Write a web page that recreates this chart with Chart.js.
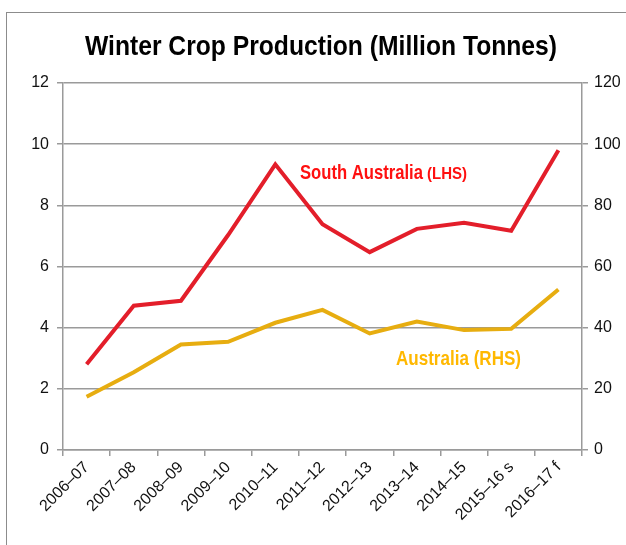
<!DOCTYPE html>
<html>
<head>
<meta charset="utf-8">
<script src="https://cdn.jsdelivr.net/npm/chart.js@4"></script>
<style>
  html, body { margin: 0; padding: 0; background: #fff; }
  #wrap { position: relative; width: 626px; height: 545px; overflow: hidden; }
  #frame { position: absolute; left: 6px; top: 12px; width: 700px; height: 600px; border: 1.5px solid #8c8c8c; box-sizing: border-box; }
  canvas { position: absolute; left: 0; top: 0; }
</style>
</head>
<body>
<div id="wrap">
  <div id="frame"></div>
  <canvas id="c" width="626" height="545"></canvas>
</div>
<script>
const categories = ['2006–07','2007–08','2008–09','2009–10','2010–11','2011–12','2012–13','2013–14','2014–15','2015–16 s','2016–17 f'];
const southAustralia = [2.8, 4.72, 4.88, 7.03, 9.34, 7.38, 6.47, 7.23, 7.43, 7.17, 9.8];
const australia = [17.4, 25.4, 34.5, 35.4, 41.6, 45.8, 38.1, 42.0, 39.2, 39.6, 52.5];
const leftTicks = [0, 2, 4, 6, 8, 10, 12];
const rightTicks = [0, 20, 40, 60, 80, 100, 120];
const titleText = 'Winter Crop Production (Million Tonnes)';

const gridColor = '#9a9a9a';
const tickFont = { family: "'Liberation Sans', Arial, sans-serif", size: 16 };
const boldFam = "'Liberation Sans', Arial, sans-serif";

function narrowText(ctx, text, x, y, font, targetWidth) {
  ctx.save();
  ctx.font = font;
  const w = ctx.measureText(text).width;
  const sx = targetWidth / w;
  ctx.translate(x, y);
  ctx.scale(sx, 1);
  ctx.fillText(text, 0, 0);
  ctx.restore();
}

const labelsPlugin = {
  id: 'seriesLabels',
  afterDraw(chart) {
    const ctx = chart.ctx;
    ctx.save();
    ctx.textBaseline = 'alphabetic';
    ctx.textAlign = 'left';
    ctx.fillStyle = '#000';
    narrowText(ctx, titleText, 85, 55, 'bold 28px ' + boldFam, 472);
    ctx.fillStyle = '#ff1010';
    narrowText(ctx, 'South Australia', 300, 179, 'bold 21px ' + boldFam, 123);
    narrowText(ctx, '(LHS)', 427, 179, 'bold 17px ' + boldFam, 40);
    ctx.fillStyle = '#ffb800';
    narrowText(ctx, 'Australia (RHS)', 396, 365, 'bold 21px ' + boldFam, 125);
    ctx.restore();
  }
};

new Chart(document.getElementById('c'), {
  type: 'line',
  data: {
    labels: categories,
    datasets: [
      { label: 'South Australia (LHS)', data: southAustralia, yAxisID: 'y', borderColor: '#e31e2a', borderWidth: 4, pointRadius: 0, tension: 0, fill: false },
      { label: 'Australia (RHS)', data: australia, yAxisID: 'y1', borderColor: '#e7ad10', borderWidth: 4, pointRadius: 0, tension: 0, fill: false }
    ]
  },
  options: {
    responsive: false,
    animation: false,
    devicePixelRatio: 1,
    layout: { padding: { left: 0, right: 0, top: 83, bottom: 0 } },
    plugins: {
      legend: { display: false },
      tooltip: { enabled: false },
      title: { display: false }
    },
    scales: {
      x: {
        type: 'category',
        offset: true,
        grid: { display: true, drawOnChartArea: false, drawTicks: true, tickLength: 6, offset: true, color: gridColor, lineWidth: 1.5 },
        border: { display: true, color: gridColor, width: 1.5 },
        ticks: { color: '#111', font: tickFont, maxRotation: 45, minRotation: 45, autoSkip: false, padding: 2 },
        afterFit(s) { s.height = 95; }
      },
      y: {
        position: 'left',
        min: 0, max: 12,
        afterBuildTicks(s) { s.ticks = leftTicks.map(v => ({ value: v })); },
        grid: { color: gridColor, lineWidth: 1.5, drawTicks: true, tickLength: 6 },
        border: { display: true, color: gridColor, width: 1.5 },
        ticks: { color: '#111', font: tickFont, padding: 8 },
        afterFit(s) { s.width = 63; }
      },
      y1: {
        position: 'right',
        min: 0, max: 120,
        afterBuildTicks(s) { s.ticks = rightTicks.map(v => ({ value: v })); },
        grid: { drawOnChartArea: false, color: gridColor, lineWidth: 1.5, drawTicks: true, tickLength: 6 },
        border: { display: true, color: gridColor, width: 1.5 },
        ticks: { color: '#111', font: tickFont, padding: 6 },
        afterFit(s) { s.width = 44; }
      }
    }
  },
  plugins: [labelsPlugin]
});
</script>
</body>
</html>
